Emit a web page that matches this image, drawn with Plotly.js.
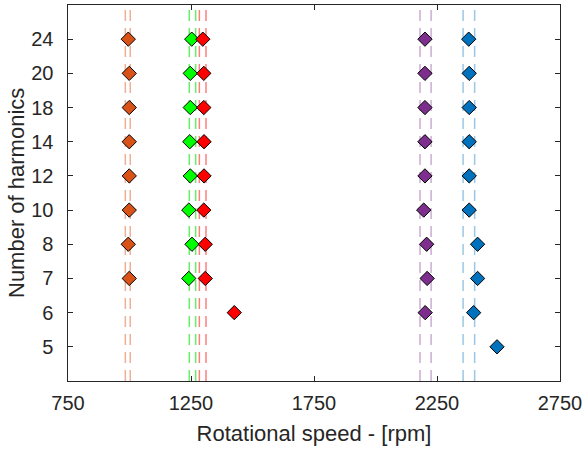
<!DOCTYPE html>
<html>
<head>
<meta charset="utf-8">
<script src="https://cdn.plot.ly/plotly-3.0.1.min.js"></script>
<style>html,body{margin:0;padding:0;background:#fff;}#chart{width:584px;height:450px;}</style>
</head>
<body>
<div id="chart"></div>
<script>
// Harmonic categories (bottom to top)
const harmonics = ['5','6','7','8','10','12','14','18','20','24'];

// Series: rotational speed per harmonic (rpm)
const orangeH = ['24','20','18','14','12','10','8','7'];
const orangeX = [995, 999, 999, 999, 999, 999, 995, 999];
const greenH  = ['24','20','18','14','12','10','8','7'];
const greenX  = [1253, 1247, 1247, 1245, 1247, 1241, 1254, 1241];
const redH    = ['24','20','18','14','12','10','8','7','6'];
const redX    = [1298, 1302, 1302, 1303, 1303, 1302, 1308, 1308, 1426];
const purpleH = ['24','20','18','14','12','10','8','7','6'];
const purpleX = [2201, 2201, 2201, 2201, 2201, 2196, 2208, 2210, 2202];
const blueH   = ['24','20','18','14','12','10','8','7','6','5'];
const blueX   = [2379, 2381, 2381, 2381, 2381, 2381, 2415, 2415, 2399, 2494];

// Dashed reference lines (rpm bounds per series)
const orangeLines = [983, 1003];
const greenLines  = [1243, 1269];
const redLines    = [1284, 1311];
const purpleLines = [2181, 2226];
const blueLines   = [2356, 2403];

const xTicks = [750, 1250, 1750, 2250, 2750];

const series = [
  {h: orangeH, x: orangeX, c: '#D95319', lc: 'rgba(217,83,25,0.45)', lines: orangeLines},
  {h: greenH,  x: greenX,  c: '#00FF00', lc: 'rgba(0,230,0,0.6)',    lines: greenLines},
  {h: redH,    x: redX,    c: '#FF0000', lc: 'rgba(255,0,0,0.5)',    lines: redLines},
  {h: purpleH, x: purpleX, c: '#7E2F8E', lc: 'rgba(126,47,142,0.4)', lines: purpleLines},
  {h: blueH,   x: blueX,   c: '#0072BD', lc: 'rgba(0,114,189,0.4)',  lines: blueLines}
];

const traces = series.map(s => ({
  type: 'scatter', mode: 'markers', x: s.x, y: s.h,
  marker: {symbol: 'diamond', size: 11, color: s.c, line: {color: '#000', width: 1}},
  showlegend: false, hoverinfo: 'x+y'
}));

const shapes = [];
series.forEach(s => s.lines.forEach(v => shapes.push({
  type: 'line', xref: 'x', yref: 'paper', x0: v, x1: v, y0: 0, y1: 1,
  line: {color: s.lc, width: 1.5, dash: '11px,7px'}, layer: 'below'
})));

const font = {family: 'Liberation Sans, Arial, sans-serif', size: 20, color: '#262626'};

const layout = {
  width: 584, height: 450,
  margin: {l: 68, r: 24, t: 5, b: 69},
  paper_bgcolor: '#fff', plot_bgcolor: '#fff',
  font: font,
  xaxis: {
    range: [750, 2750], tickvals: xTicks, ticktext: xTicks.map(String),
    ticks: 'inside', ticklen: 5, tickcolor: '#262626', tickwidth: 1,
    ticklabelstandoff: 4,
    showline: true, linecolor: '#262626', linewidth: 1, mirror: 'ticks',
    showgrid: false, zeroline: false,
    title: {text: 'Rotational speed - [rpm]', font: {size: 22, color: '#262626'}, standoff: 12}
  },
  yaxis: {
    type: 'category', categoryorder: 'array', categoryarray: harmonics,
    range: [-1, 10],
    ticks: 'inside', ticklen: 5, tickcolor: '#262626', tickwidth: 1,
    ticksuffix: '\u00a0\u2009',
    showline: true, linecolor: '#262626', linewidth: 1, mirror: 'ticks',
    showgrid: false, zeroline: false
  },
  annotations: [{
    text: 'Number of harmonics', xref: 'paper', yref: 'paper',
    x: 0, y: 0.5, xanchor: 'center', yanchor: 'middle', xshift: -52,
    textangle: -90, showarrow: false, font: {size: 22, color: '#262626'}
  }],
  shapes: shapes
};

Plotly.newPlot('chart', traces, layout, {displayModeBar: false, staticPlot: true});
</script>
</body>
</html>
